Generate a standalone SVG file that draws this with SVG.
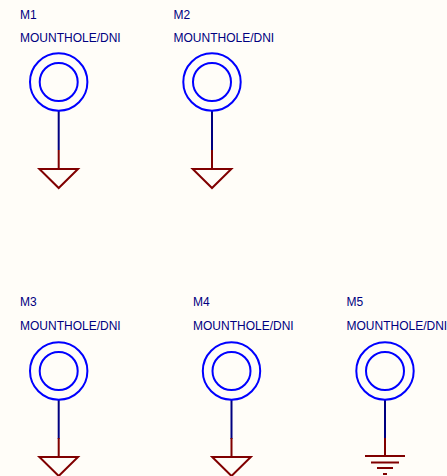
<svg xmlns="http://www.w3.org/2000/svg" width="447" height="476" viewBox="0 0 447 476">
<style>
text{font-family:"Liberation Sans",Arial,sans-serif;font-size:12px;fill:#000080}
.c{fill:none;stroke:#0000ff;stroke-width:2}
.w{fill:none;stroke:#000080;stroke-width:2}
.r{fill:none;stroke:#800000;stroke-width:2}
</style>
<defs>
<g id="hole"><circle class="c" cx="0" cy="0" r="28.7"/><circle class="c" cx="0" cy="0" r="19"/></g>
<path id="gnd" class="r" d="M0,-19V0M-19.300,0H19.300L0,19Z"/>
</defs>
<rect width="447" height="476" fill="#fffdf8"/>
<g id="connectors">
<path class="w" d="M58.700,111V150M212,111V150M58.700,400V439M231.500,400V439M385,400V439"/>
</g>
<g id="M1"><text x="20" y="19">M1</text><text x="20" y="41.500">MOUNTHOLE/DNI</text><use href="#hole" x="58.700" y="82"/><use href="#gnd" x="58.700" y="169"/></g>
<g id="M2"><text x="173.500" y="19">M2</text><text x="173.500" y="41.500">MOUNTHOLE/DNI</text><use href="#hole" x="212" y="82"/><use href="#gnd" x="212" y="169"/></g>
<g id="M3"><text x="20" y="306">M3</text><text x="20" y="330">MOUNTHOLE/DNI</text><use href="#hole" x="58.700" y="371"/><use href="#gnd" x="58.700" y="457"/></g>
<g id="M4"><text x="193" y="306">M4</text><text x="193" y="330">MOUNTHOLE/DNI</text><use href="#hole" x="231.500" y="371"/><use href="#gnd" x="231.500" y="457"/></g>
<g id="M5"><text x="346.500" y="306">M5</text><text x="346.500" y="330">MOUNTHOLE/DNI</text><use href="#hole" x="385" y="371"/><path class="r" d="M385,438V456M365,456H405M371,462.500H399M377,468H393M383,474H387"/></g>
</svg>
